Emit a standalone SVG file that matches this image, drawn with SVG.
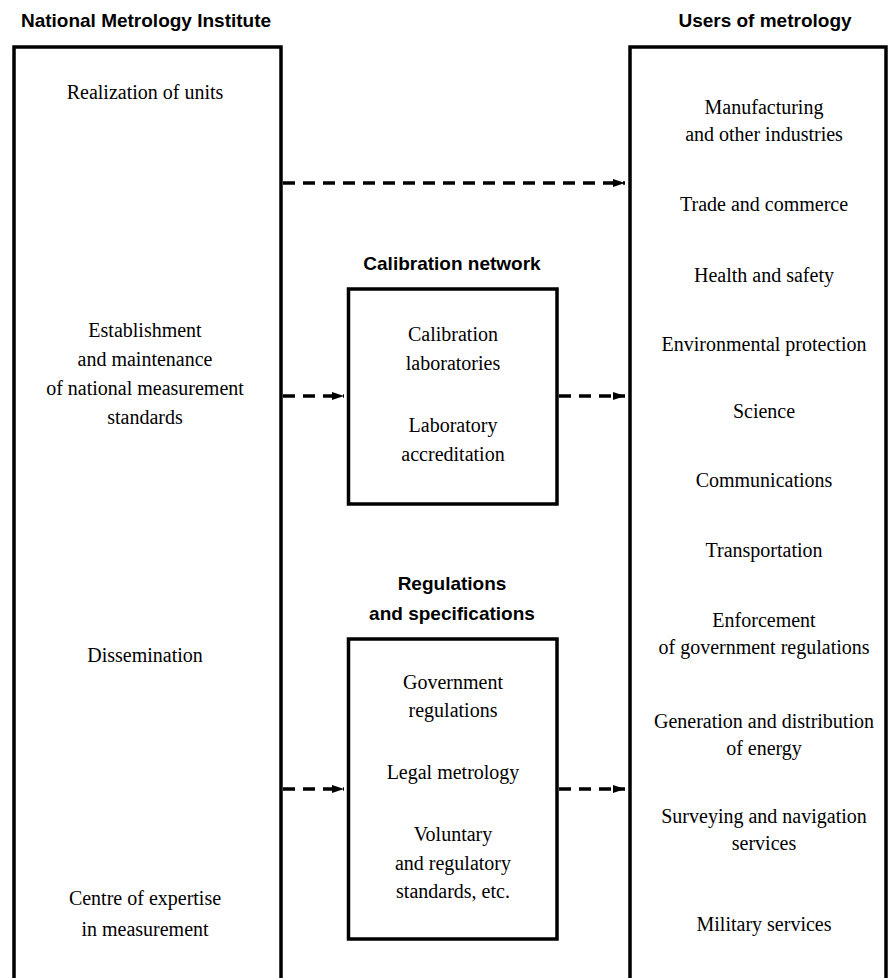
<svg xmlns="http://www.w3.org/2000/svg" width="888" height="978" viewBox="0 0 888 978">
<style>
.box{fill:#fff;stroke:#000;stroke-width:3.5}
.t{font-family:"Liberation Serif",serif;font-size:20px;fill:#000;text-anchor:middle}
.h{font-family:"Liberation Sans",Arial,sans-serif;font-size:19px;font-weight:bold;fill:#000;text-anchor:middle}
.c{fill:none;stroke:#000;stroke-width:3.5;stroke-dasharray:12 8}
</style>
<defs>
<marker id="ah" markerUnits="userSpaceOnUse" markerWidth="14" markerHeight="10" refX="12" refY="5" orient="auto">
<path d="M0,1 L12,5 L0,9 Z" fill="#000"/>
</marker>
</defs>
<rect width="888" height="978" fill="#fff"/>
<g id="nmi">
<text class="h" x="146" y="27">National Metrology Institute</text>
<rect class="box" x="14" y="47" width="267" height="960"/>
<text class="t" x="145" y="99">Realization of units</text>
<text class="t" x="145" y="337">Establishment</text>
<text class="t" x="145" y="366">and maintenance</text>
<text class="t" x="145" y="395">of national measurement</text>
<text class="t" x="145" y="424">standards</text>
<text class="t" x="145" y="662">Dissemination</text>
<text class="t" x="145" y="905">Centre of expertise</text>
<text class="t" x="145" y="936">in measurement</text>
</g>
<g id="users">
<text class="h" x="765" y="27">Users of metrology</text>
<rect class="box" x="630" y="47" width="256" height="960"/>
<text class="t" x="764" y="114">Manufacturing</text>
<text class="t" x="764" y="141">and other industries</text>
<text class="t" x="764" y="211">Trade and commerce</text>
<text class="t" x="764" y="282">Health and safety</text>
<text class="t" x="764" y="351">Environmental protection</text>
<text class="t" x="764" y="418">Science</text>
<text class="t" x="764" y="487">Communications</text>
<text class="t" x="764" y="557">Transportation</text>
<text class="t" x="764" y="627">Enforcement</text>
<text class="t" x="764" y="654">of government regulations</text>
<text class="t" x="764" y="728">Generation and distribution</text>
<text class="t" x="764" y="755">of energy</text>
<text class="t" x="764" y="823">Surveying and navigation</text>
<text class="t" x="764" y="850">services</text>
<text class="t" x="764" y="931">Military services</text>
</g>
<g id="calibration">
<text class="h" x="452" y="270">Calibration network</text>
<rect class="box" x="348.5" y="289" width="208.5" height="215"/>
<text class="t" x="453" y="341">Calibration</text>
<text class="t" x="453" y="370">laboratories</text>
<text class="t" x="453" y="432">Laboratory</text>
<text class="t" x="453" y="461">accreditation</text>
</g>
<g id="regulations">
<text class="h" x="452" y="590">Regulations</text>
<text class="h" x="452" y="620">and specifications</text>
<rect class="box" x="348.5" y="639" width="208.5" height="300"/>
<text class="t" x="453" y="689">Government</text>
<text class="t" x="453" y="717">regulations</text>
<text class="t" x="453" y="779">Legal metrology</text>
<text class="t" x="453" y="841">Voluntary</text>
<text class="t" x="453" y="870">and regulatory</text>
<text class="t" x="453" y="898">standards, etc.</text>
</g>
<g id="connectors">
<line class="c" x1="283" y1="183" x2="625" y2="183" marker-end="url(#ah)"/>
<line class="c" x1="283" y1="396" x2="344" y2="396" marker-end="url(#ah)"/>
<line class="c" x1="559" y1="396" x2="625" y2="396" marker-end="url(#ah)"/>
<line class="c" x1="283" y1="789" x2="344" y2="789" marker-end="url(#ah)"/>
<line class="c" x1="559" y1="789" x2="625" y2="789" marker-end="url(#ah)"/>
</g>
</svg>
